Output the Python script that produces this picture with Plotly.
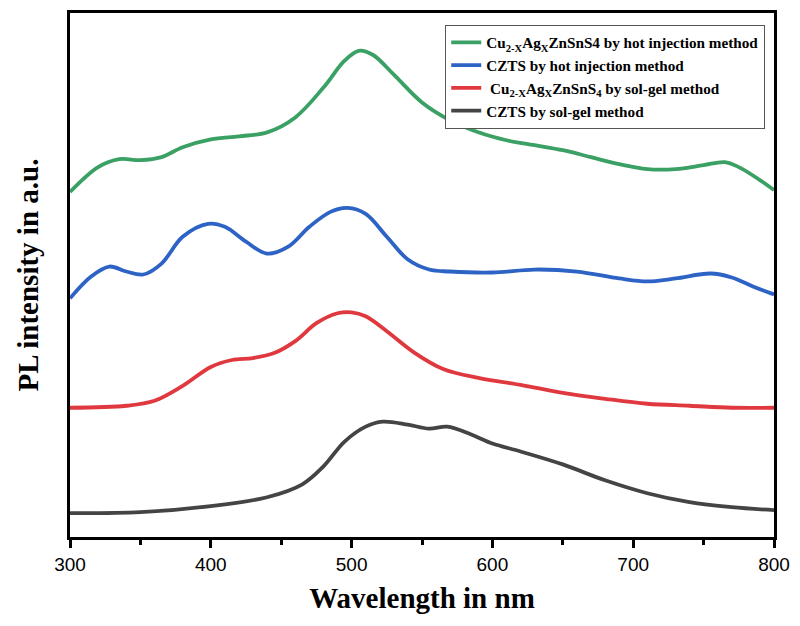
import plotly.graph_objects as go

# Pixel-read values converted to arbitrary intensity (0 at bottom axis)
green_x = [300,320,335,350,365,380,400,420,440,460,480,495,505,515,530,550,570,590,610,630,650,670,690,710,730,750,765,775,790,800]
green_p = [190,165,157,158,155,145,137,134,130,115,85,58,48,52,72,100,118,130,138,143,148,155,162,167,167,163,160,165,178,188]

blue_x = [300,315,328,340,352,365,380,398,410,425,440,455,470,485,497,510,525,540,555,570,600,630,660,690,710,730,755,770,785,800]
blue_p = [297,275,265,270,273,262,235,222,225,240,252,245,225,210,206,212,235,258,268,270,271,268,270,277,280,277,272,276,285,293]

red_x = [300,340,360,380,400,415,430,445,460,475,490,500,510,525,545,565,590,620,650,680,710,740,770,800]
red_p = [407,405,400,385,366,359,357,352,340,322,312,311,315,330,352,368,377,384,392,398,403,405,407,407]

black_x = [300,350,400,440,465,480,495,510,522,540,555,568,585,600,620,650,680,710,740,770,800]
black_p = [513,512,506,497,484,466,441,426,421,424,428,426,434,443,451,464,480,493,502,507,510]

BOTTOM = 537
def conv(p):
    return [BOTTOM - v for v in p]

names = ["<b>Cu<sub>2-X</sub>Ag<sub>X</sub>ZnSnS4 by hot injection method</b>",
         "<b>CZTS by hot injection method</b>",
         "<b> Cu<sub>2-X</sub>Ag<sub>X</sub>ZnSnS<sub>4</sub> by sol-gel method</b>",
         "<b>CZTS by sol-gel method</b>"]
colors = ["#3aa064", "#2e63c6", "#e0383f", "#444444"]
series = [(green_x, green_p), (blue_x, blue_p), (red_x, red_p), (black_x, black_p)]

fig = go.Figure()
for (xs, ps), n, c in zip(series, names, colors):
    fig.add_trace(go.Scatter(x=xs, y=conv(ps), mode="lines", name=n,
                             line=dict(color=c, width=3.8, shape="spline", smoothing=1.0)))

fig.update_layout(
    width=800, height=626,
    margin=dict(l=70, r=20, t=10, b=89),
    paper_bgcolor="white", plot_bgcolor="white",
    showlegend=True,
    legend=dict(x=0.533, y=0.977, xanchor="left", yanchor="top",
                bordercolor="#555555", borderwidth=1, bgcolor="white",
                font=dict(family="Liberation Serif", size=15.2, color="black"),
                tracegroupgap=0, itemwidth=30),
    font=dict(family="Liberation Serif"),
)
fig.update_xaxes(range=[300, 800], tickvals=[300,400,500,600,700,800],
                 showline=True, linecolor="black", linewidth=3, mirror=True,
                 ticks="outside", ticklen=8, tickwidth=2.5, tickcolor="black",
                 minor=dict(ticks="outside", ticklen=5, tickwidth=2.5, tickcolor="black", dtick=50),
                 showgrid=False, zeroline=False,
                 tickfont=dict(family="Liberation Sans", size=19, color="black"),
                 title=dict(text="<b>Wavelength in nm</b>", font=dict(family="Liberation Serif", size=29, color="black"), standoff=14))
fig.update_yaxes(range=[0, 527], showticklabels=False, ticks="",
                 showline=True, linecolor="black", linewidth=3, mirror=True,
                 showgrid=False, zeroline=False,
                 title=dict(text="<b>PL intensity in a.u.</b>", font=dict(family="Liberation Serif", size=29, color="black"), standoff=20))

fig.write_html("out.html")
